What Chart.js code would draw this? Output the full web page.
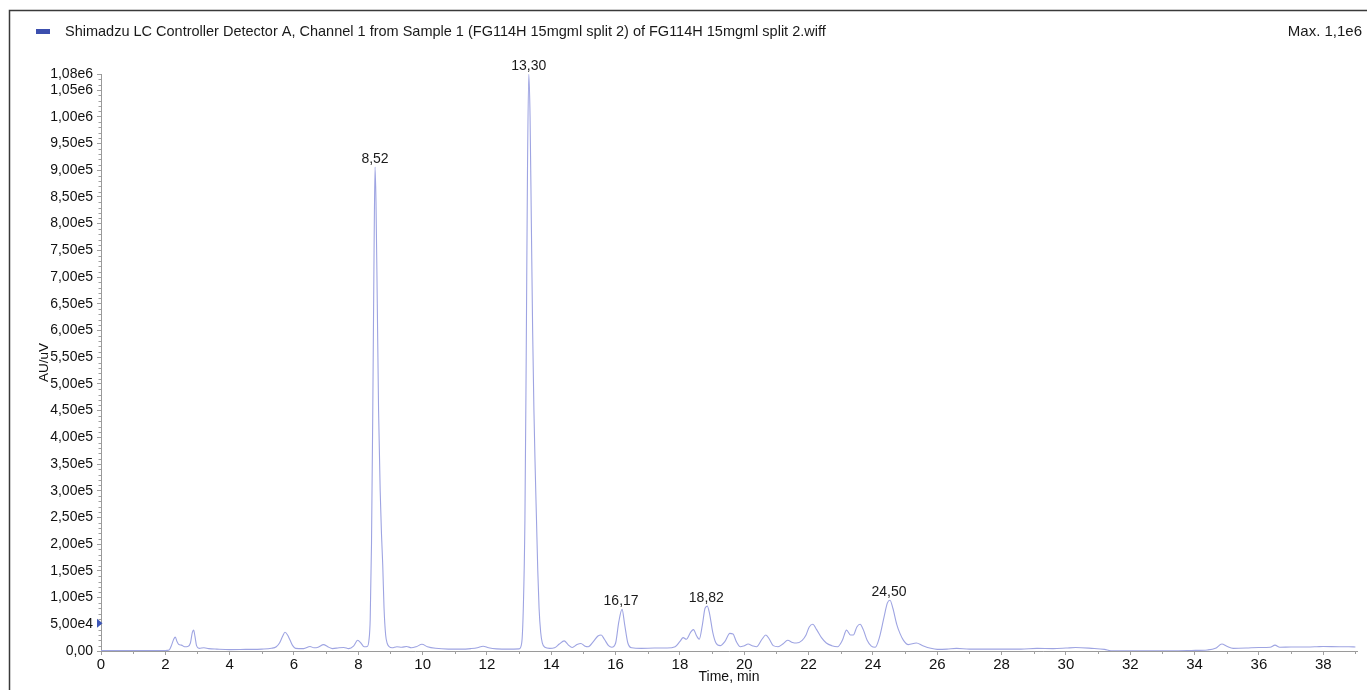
<!DOCTYPE html>
<html>
<head>
<meta charset="utf-8">
<title>Chromatogram</title>
<script src="https://cdn.jsdelivr.net/npm/chart.js@4.4.1/dist/chart.umd.min.js"></script>
<style>
  html, body { margin: 0; padding: 0; background: #fff; }
  canvas { display: block; }
</style>
</head>
<body>
<canvas id="chrom" width="1367" height="690"></canvas>
<script>
// Detector trace: retention time (min) and signal (AU/uV)
const times = [
  0.00, 0.50, 1.00, 1.50, 2.00, 2.12, 2.20, 2.26, 2.31, 2.36, 2.42, 2.50, 2.60, 2.70, 2.78, 2.84, 2.88, 2.92, 2.97, 3.05,
  3.20, 3.35, 3.60, 4.00, 4.50, 5.00, 5.30, 5.45, 5.55, 5.65, 5.72, 5.80, 5.88, 5.96, 6.05, 6.30, 6.50, 6.62, 6.75, 6.92,
  7.05, 7.20, 7.40, 7.55, 7.70, 7.85, 7.98, 8.08, 8.18, 8.28, 8.33, 8.37, 8.41, 8.45, 8.49, 8.52, 8.55, 8.59, 8.63, 8.68,
  8.72, 8.76, 8.80, 8.85, 8.90, 8.96, 9.05, 9.20, 9.35, 9.50, 9.65, 9.80, 9.98, 10.15, 10.40, 10.80, 11.20, 11.50, 11.70, 11.88,
  12.05, 12.30, 12.70, 13.00, 13.08, 13.13, 13.18, 13.22, 13.26, 13.30, 13.34, 13.38, 13.42, 13.46, 13.50, 13.54, 13.58, 13.62, 13.67, 13.72,
  13.80, 13.95, 14.10, 14.25, 14.40, 14.52, 14.65, 14.80, 14.92, 15.05, 15.15, 15.30, 15.45, 15.55, 15.65, 15.78, 15.88, 16.00, 16.10, 16.20,
  16.28, 16.38, 16.50, 16.80, 17.20, 17.60, 17.85, 18.00, 18.10, 18.20, 18.33, 18.42, 18.52, 18.60, 18.70, 18.78, 18.85, 18.92, 19.02, 19.12,
  19.25, 19.40, 19.55, 19.65, 19.75, 19.88, 20.00, 20.12, 20.25, 20.38, 20.55, 20.67, 20.78, 20.90, 21.05, 21.20, 21.35, 21.50, 21.62, 21.80,
  21.92, 22.02, 22.13, 22.25, 22.40, 22.55, 22.72, 22.90, 23.05, 23.18, 23.30, 23.39, 23.50, 23.60, 23.70, 23.82, 23.95, 24.07, 24.20, 24.35,
  24.45, 24.53, 24.62, 24.74, 24.84, 24.95, 25.10, 25.35, 25.55, 25.80, 26.00, 26.30, 26.60, 27.00, 27.50, 28.00, 28.60, 29.10, 29.60, 30.00,
  30.30, 30.80, 31.20, 31.40, 32.00, 32.50, 33.00, 33.50, 33.90, 34.40, 34.65, 34.85, 35.00, 35.20, 35.60, 36.00, 36.35, 36.50, 36.65, 37.00,
  37.50, 37.80, 38.00, 38.50, 38.80, 39.00
];
const signal = [
  1000, 1000, 1000, 1000, 1000, 2000, 12000, 22000, 26000, 18000, 12000, 11000, 8000, 8500, 15000, 35000, 39000, 28000, 10000, 5000,
  6000, 4500, 3500, 2500, 3000, 3500, 5000, 8000, 15000, 28000, 35000, 30000, 20000, 10000, 5000, 4500, 8500, 6000, 7000, 12000,
  8000, 4500, 6000, 6500, 4500, 9000, 20000, 15000, 8000, 8500, 20000, 60000, 200000, 450000, 750000, 906000, 840000, 650000, 450000, 300000,
  220000, 160000, 80000, 30000, 14000, 8000, 6000, 8000, 7000, 8500, 6000, 8000, 12500, 8000, 5000, 3500, 3500, 4500, 6000, 9000,
  6000, 4000, 3500, 4000, 15000, 80000, 245000, 550000, 900000, 1080000, 1000000, 800000, 600000, 450000, 340000, 245000, 150000, 80000, 35000, 15000,
  7000, 5000, 6000, 13000, 19000, 12000, 6500, 12000, 14000, 9000, 8000, 17000, 28000, 30000, 22000, 10000, 7000, 15000, 55000, 78000,
  50000, 15000, 6000, 5000, 5500, 5500, 8000, 18000, 25000, 22000, 35000, 40000, 28000, 22000, 50000, 80000, 84000, 70000, 35000, 15000,
  10000, 18000, 33000, 32000, 18000, 8000, 10000, 13000, 10000, 8000, 22000, 30000, 22000, 10000, 8000, 13000, 20000, 16000, 15000, 20000,
  30000, 45000, 50000, 40000, 25000, 15000, 10000, 8000, 20000, 39000, 30000, 30000, 45000, 50000, 40000, 20000, 9000, 7000, 25000, 65000,
  90000, 95000, 80000, 50000, 33000, 20000, 12000, 15000, 10000, 5000, 3000, 3500, 5000, 3500, 3500, 3500, 3500, 5000, 4500, 5500,
  6500, 5000, 3000, 500, 500, 500, 500, 500, 1000, 2000, 5000, 13000, 9000, 5000, 5500, 6500, 7000, 11000, 7000, 7500,
  7500, 8000, 8500, 8000, 8000, 7500
];

// Labelled peaks: retention time and apex height
const peakTimes = [8.52, 13.30, 16.17, 18.82, 24.50];
const peakHeights = [906000, 1080000, 78000, 84000, 95000];

// Axis ticks
const xTickValues = [0, 2, 4, 6, 8, 10, 12, 14, 16, 18, 20, 22, 24, 26, 28, 30, 32, 34, 36, 38];
const yTickValues = [0, 50000, 100000, 150000, 200000, 250000, 300000, 350000, 400000, 450000, 500000,
  550000, 600000, 650000, 700000, 750000, 800000, 850000, 900000, 950000, 1000000, 1050000, 1080000];
const yTickLabels = ['0,00', '5,00e4', '1,00e5', '1,50e5', '2,00e5', '2,50e5', '3,00e5', '3,50e5', '4,00e5', '4,50e5', '5,00e5',
  '5,50e5', '6,00e5', '6,50e5', '7,00e5', '7,50e5', '8,00e5', '8,50e5', '9,00e5', '9,50e5', '1,00e6', '1,05e6', '1,08e6'];

const xMax = 39.05;
const yMax = 1080000;
const markerLevel = 52000;

const traceTitle = 'Shimadzu LC Controller Detector A, Channel 1 from Sample 1 (FG114H 15mgml split 2) of FG114H 15mgml split 2.wiff';
const maxText = 'Max. 1,1e6';

const FONT = 'Arial, "Liberation Sans", sans-serif';
const points = times.map((t, i) => ({ x: t, y: signal[i] }));

// Frame, header, peak labels, minor ticks and the level marker
const decorations = {
  id: 'decorations',
  afterDraw(chart) {
    const { ctx } = chart;
    const xs = chart.scales.x, ys = chart.scales.y;
    const area = chart.chartArea;
    ctx.save();

    // outer frame (top and left edges)
    ctx.strokeStyle = '#3a3a3a';
    ctx.lineWidth = 1.5;
    ctx.beginPath();
    ctx.moveTo(9.5, 690);
    ctx.lineTo(9.5, 10.5);
    ctx.lineTo(1367, 10.5);
    ctx.stroke();

    // header: series swatch, name and maximum
    ctx.fillStyle = '#3c4fae';
    ctx.fillRect(36, 29, 14, 5);
    ctx.fillStyle = '#1a1a1a';
    ctx.font = '14.5px ' + FONT;
    ctx.textBaseline = 'middle';
    ctx.textAlign = 'left';
    ctx.fillText(traceTitle, 65, 32);
    ctx.font = '15px ' + FONT;
    ctx.textAlign = 'right';
    ctx.fillText(maxText, 1362, 32);

    // minor ticks
    ctx.strokeStyle = '#a0a0a0';
    ctx.lineWidth = 1;
    ctx.beginPath();
    for (let v = 10000; v < yMax; v += 10000) {
      if (v % 50000 === 0) continue;
      const py = Math.round(ys.getPixelForValue(v)) + 0.5;
      ctx.moveTo(area.left - 2.5, py);
      ctx.lineTo(area.left, py);
    }
    for (let t = 1; t <= 39; t += 2) {
      const px = Math.round(xs.getPixelForValue(t)) + 0.5;
      ctx.moveTo(px, area.bottom);
      ctx.lineTo(px, area.bottom + 3);
    }
    ctx.stroke();

    // level marker on the signal axis
    const my = ys.getPixelForValue(markerLevel);
    ctx.fillStyle = '#3c56b8';
    ctx.beginPath();
    ctx.moveTo(area.left - 4, my - 4.5);
    ctx.lineTo(area.left + 1.5, my);
    ctx.lineTo(area.left - 4, my + 4.5);
    ctx.closePath();
    ctx.fill();

    // peak retention-time labels
    ctx.fillStyle = '#1a1a1a';
    ctx.font = '14px ' + FONT;
    ctx.textAlign = 'center';
    ctx.textBaseline = 'bottom';
    peakTimes.forEach((t, i) => {
      const px = xs.getPixelForValue(t);
      const py = ys.getPixelForValue(peakHeights[i]);
      ctx.fillText(t.toFixed(2).replace('.', ','), px, py - 1);
    });

    ctx.restore();
  }
};

new Chart(document.getElementById('chrom'), {
  type: 'line',
  data: {
    datasets: [{
      data: points,
      borderColor: '#9ea4e2',
      borderWidth: 1.1,
      pointRadius: 0,
      fill: false,
      cubicInterpolationMode: 'monotone'
    }]
  },
  options: {
    responsive: false,
    animation: false,
    events: [],
    layout: { padding: { left: 0, right: 10, top: 74, bottom: 0 } },
    plugins: { legend: { display: false }, tooltip: { enabled: false } },
    scales: {
      x: {
        type: 'linear',
        min: 0,
        max: xMax,
        afterBuildTicks: s => { s.ticks = xTickValues.map(v => ({ value: v })); },
        afterFit: s => { s.height = 39; },
        ticks: {
          autoSkip: false,
          maxRotation: 0,
          padding: 1,
          color: '#111',
          font: { family: FONT, size: 15 },
          callback: v => String(v)
        },
        grid: { drawOnChartArea: false, drawTicks: true, tickLength: 4, tickColor: '#a0a0a0' },
        border: { display: true, color: '#9a9a9a', width: 1 },
        title: {
          display: true,
          text: 'Time, min',
          color: '#111',
          font: { family: FONT, size: 14 },
          padding: { top: 0, bottom: 4 }
        }
      },
      y: {
        type: 'linear',
        min: 0,
        max: yMax,
        afterBuildTicks: s => { s.ticks = yTickValues.map(v => ({ value: v })); },
        afterFit: s => { s.width = 101; },
        ticks: {
          autoSkip: false,
          padding: 4,
          color: '#111',
          font: { family: FONT, size: 14 },
          callback: (v) => yTickLabels[yTickValues.indexOf(v)]
        },
        grid: { drawOnChartArea: false, drawTicks: true, tickLength: 4, tickColor: '#a0a0a0' },
        border: { display: true, color: '#9a9a9a', width: 1 },
        title: {
          display: true,
          text: 'AU/uV',
          color: '#111',
          font: { family: FONT, size: 13.5 },
          padding: { top: 36, bottom: 0 }
        }
      }
    }
  },
  plugins: [decorations]
});
</script>
</body>
</html>
